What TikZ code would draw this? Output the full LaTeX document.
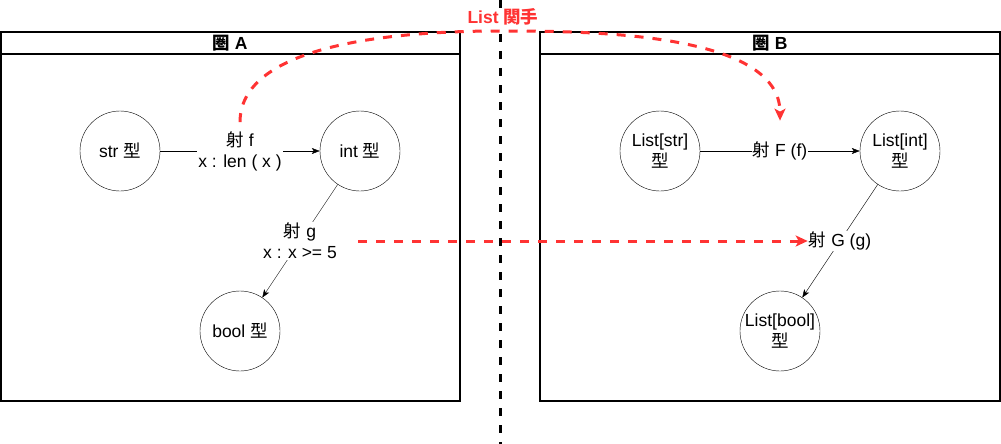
\documentclass[tikz,border=0pt]{standalone}
\usepackage{fontspec}
\setmainfont{Liberation Sans}
\newfontfamily\jpfont{Noto Sans CJK JP}
\usetikzlibrary{arrows.meta}
\definecolor{functorred}{HTML}{FF3333}
\newcommand{\jp}[1]{{\jpfont #1}}
\newcommand{\lblfont}{\fontsize{17.5}{21}\selectfont}

\begin{document}
\begin{tikzpicture}[x=1pt,y=-1pt,font=\lblfont,
	obj/.style={draw,circle,minimum size=80pt,inner sep=0pt,align=center},
	mor/.style={fill=white,align=center,inner sep=1pt},
	catbox/.style={draw,line width=1.2pt},
	arr/.style={-{Stealth[length=8pt,width=6pt,inset=2pt]}},
	functor/.style={functorred,line width=3pt,dash pattern=on 9pt off 9pt,-{Stealth[length=12pt,width=11pt,inset=3pt]}}]
	\useasboundingbox (0,0) rectangle (1001,444);
	\draw[catbox] (1,32) rectangle (460,401);
	\draw[catbox] (1,54) -- (460,54);
	\node[font=\lblfont\bfseries] (titleA) at (230,43) {\jp{圏} A};
	\draw[catbox] (540,32) rectangle (1000,401);
	\draw[catbox] (540,54) -- (1000,54);
	\node[font=\lblfont\bfseries] (titleB) at (770,43) {\jp{圏} B};
	\node[obj] (str) at (120,151) {str \jp{型}};
	\node[obj] (int) at (360,151) {int \jp{型}};
	\node[obj] (bool) at (240,331) {bool \jp{型}};
	\node[obj] (lstr) at (660,151) {List[str]\\\jp{型}};
	\node[obj] (lint) at (900,151) {List[int]\\\jp{型}};
	\node[obj,inner sep=-3pt] (lbool) at (780,331) {List[bool]\\\jp{型}};
	\draw[arr] (str) -- node[mor] (f) {\jp{射} f\\x : len ( x )} (int);
	\draw[arr] (int) -- node[mor] (g) {\jp{射} g\\x : x >= 5} (bool);
	\draw[arr] (lstr) -- node[mor] (F) {\jp{射} F (f)} (lint);
	\draw[arr] (lint) -- node[mor] (G) {\jp{射} G (g)} (lbool);
	\coordinate (peak) at (500,31);
	\draw[functor] ([yshift=8pt]f.north) .. controls (240,39) and (417,31) .. (peak) .. controls (588,31) and (780,32) .. ([yshift=20pt]F.north);
	\draw[functor] ([xshift=20pt]g.east) -- (G.west);
	\draw[line width=3pt,dash pattern=on 8pt off 9pt] (500,0) -- (500,444);
	\node[fill=white,text=functorred,font=\lblfont\bfseries,inner sep=1pt] (fname) at (503,17) {List \jp{関手}};
\end{tikzpicture}
\end{document}
